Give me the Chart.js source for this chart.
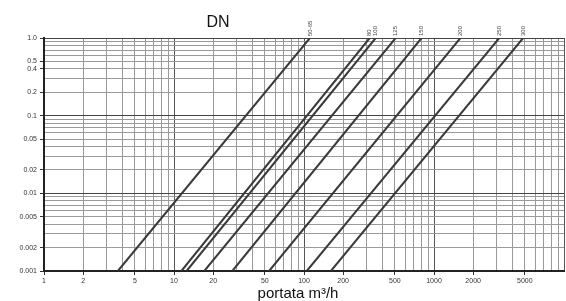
<!DOCTYPE html>
<html>
<head>
<meta charset="utf-8">
<script src="https://cdn.jsdelivr.net/npm/chart.js@4"></script>
<style>
  html, body { margin: 0; padding: 0; background: #fff; }
  #chart { display: block; }
</style>
</head>
<body>
<canvas id="chart" width="566" height="301"></canvas>
<script>
// DN sizes, and the flow (m3/h) read at both ends of each line
const dnLabels = ['50-65', '80', '100', '125', '150', '200', '250', '300'];
const flowAtMinDrop = [3.7, 11.4, 12.5, 17.1, 28.1, 53.9, 105, 161];
const flowAtMaxDrop = [111, 320, 356, 507, 802, 1596, 3177, 4850];
const dropMin = 0.001;
const dropMax = 1.0;

const xTickLabels = [1, 2, 5, 10, 20, 50, 100, 200, 500, 1000, 2000, 5000];
const yTickLabels = ['1.0', '0.5', '0.4', '0.2', '0.1', '0.05', '0.02', '0.01', '0.005', '0.002', '0.001'];

const FONT = '"Liberation Sans", Arial, sans-serif';

// every 1..9 step of each decade, so the grid looks like log paper
function logPaperTicks(scale) {
  const ticks = [];
  const lo = Math.floor(Math.log10(scale.min));
  const hi = Math.ceil(Math.log10(scale.max));
  for (let d = lo; d <= hi; d++) {
    for (let m = 1; m <= 9; m++) {
      const v = parseFloat((m * Math.pow(10, d)).toPrecision(6));
      if (v >= scale.min * 0.999 && v <= scale.max * 1.001) ticks.push({ value: v });
    }
  }
  scale.ticks = ticks;
}

const isDecade = (v) => Math.abs(Math.log10(v) - Math.round(Math.log10(v))) < 1e-6;
const yLabelFor = (v) => yTickLabels.find(l => Math.abs(parseFloat(l) / v - 1) < 1e-6);

const datasets = dnLabels.map((dn, i) => ({
  label: 'DN ' + dn,
  data: [
    { x: flowAtMinDrop[i], y: dropMin },
    { x: flowAtMaxDrop[i], y: dropMax }
  ],
  borderColor: '#3a3a3a',
  borderWidth: 2,
  pointRadius: 0,
  fill: false
}));

const annotations = {
  id: 'annotations',
  afterDraw(chart) {
    const { ctx, scales: { x, y } } = chart;
    ctx.save();
    ctx.fillStyle = '#111';
    ctx.textAlign = 'center';
    ctx.textBaseline = 'alphabetic';
    ctx.font = '16px ' + FONT;
    ctx.fillText('DN', 218, 27);
    ctx.font = '15px ' + FONT;
    ctx.fillText('portata m³/h', 298, 298);

    // rotated DN label at the top end of each line
    ctx.font = '6px ' + FONT;
    ctx.fillStyle = '#444';
    dnLabels.forEach((dn, i) => {
      const px = x.getPixelForValue(flowAtMaxDrop[i]);
      const py = y.getPixelForValue(dropMax);
      ctx.save();
      ctx.translate(px, py - 2);
      ctx.rotate(-Math.PI / 2);
      ctx.textAlign = 'left';
      ctx.textBaseline = 'middle';
      ctx.fillText(dn, 0, 0);
      ctx.restore();
    });
    ctx.restore();
  }
};

new Chart(document.getElementById('chart'), {
  type: 'line',
  data: { datasets },
  plugins: [annotations],
  options: {
    responsive: false,
    animation: false,
    layout: { padding: { top: 38, right: 0, left: 0, bottom: 0 } },
    plugins: {
      legend: { display: false },
      tooltip: { enabled: false }
    },
    scales: {
      x: {
        type: 'logarithmic',
        min: 1,
        max: 10000,
        afterBuildTicks: logPaperTicks,
        afterFit: (s) => { s.height = 30; },
        border: { color: '#222', width: 2 },
        grid: {
          color: (c) => isDecade(c.tick.value) ? '#555' : '#9a9a9a',
          lineWidth: 1,
          tickLength: 4,
          tickColor: (c) => xTickLabels.includes(c.tick.value) ? '#333' : 'rgba(0,0,0,0)'
        },
        ticks: {
          autoSkip: false,
          maxRotation: 0,
          padding: 2,
          color: '#333',
          font: { size: 7, family: FONT },
          callback: (v) => xTickLabels.includes(v) ? String(v) : ''
        }
      },
      y: {
        type: 'logarithmic',
        min: dropMin,
        max: dropMax,
        afterBuildTicks: logPaperTicks,
        afterFit: (s) => { s.width = 44; },
        border: { color: '#222', width: 2 },
        grid: {
          color: (c) => isDecade(c.tick.value) ? '#444' : '#9a9a9a',
          lineWidth: 1,
          tickLength: 4,
          tickColor: (c) => yLabelFor(c.tick.value) ? '#333' : 'rgba(0,0,0,0)'
        },
        ticks: {
          autoSkip: false,
          padding: 3,
          color: '#333',
          font: { size: 7, family: FONT },
          callback: (v) => yLabelFor(v) || ''
        }
      }
    }
  }
});
</script>
</body>
</html>
